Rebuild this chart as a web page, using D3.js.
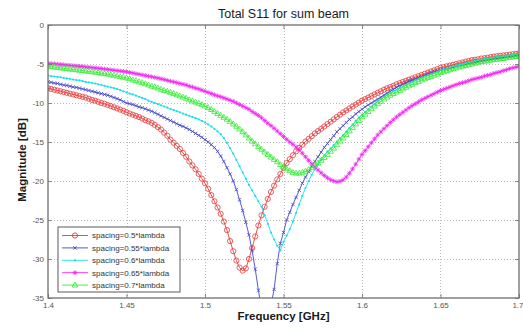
<!DOCTYPE html>
<html>
<head>
<meta charset="utf-8">
<script src="https://cdn.jsdelivr.net/npm/d3@7"></script>
<style>
  html, body { margin: 0; padding: 0; background: #fff; }
  svg { display: block; font-family: "Liberation Sans", Arial, sans-serif; }
</style>
</head>
<body>
<svg id="chart" width="523" height="329"></svg>
<script>
// Frequency sweep: 1.400 ... 1.700 GHz, 2 MHz step (151 points per trace)
const freqStart = 1.4;
const freqStep = 0.002;

// |S11| in dB for each element spacing, one value per sweep point
const s11_050 = [
  -8.1,-8.2,-8.3,-8.4,-8.5,-8.6,-8.7,-8.8,-8.9,-9.0,
  -9.1,-9.2,-9.3,-9.45,-9.6,-9.7,-9.85,-10.0,-10.1,-10.25,
  -10.4,-10.55,-10.7,-10.85,-11.0,-11.2,-11.35,-11.5,-11.65,-11.8,
  -12.0,-12.2,-12.35,-12.55,-12.8,-13.1,-13.4,-13.8,-14.2,-14.7,
  -15.1,-15.5,-15.9,-16.4,-16.9,-17.5,-18.0,-18.5,-19.1,-19.7,
  -20.3,-21.0,-21.8,-22.6,-23.4,-24.2,-25.2,-26.3,-27.7,-29.0,
  -30.2,-31.1,-31.5,-31.2,-30.0,-28.6,-27.1,-25.7,-24.4,-23.3,
  -22.3,-21.4,-20.6,-19.8,-19.1,-18.3,-17.7,-17.2,-16.7,-16.2,
  -15.75,-15.35,-14.95,-14.6,-14.25,-13.9,-13.6,-13.3,-13.0,-12.7,
  -12.4,-12.1,-11.8,-11.5,-11.2,-10.95,-10.7,-10.45,-10.2,-9.95,
  -9.7,-9.5,-9.3,-9.1,-8.9,-8.7,-8.5,-8.3,-8.1,-7.95,
  -7.8,-7.6,-7.45,-7.3,-7.15,-7.0,-6.85,-6.7,-6.55,-6.4,
  -6.25,-6.1,-5.95,-5.8,-5.65,-5.5,-5.4,-5.3,-5.2,-5.1,
  -5.0,-4.9,-4.8,-4.7,-4.6,-4.5,-4.45,-4.4,-4.3,-4.25,
  -4.2,-4.1,-4.05,-4.0,-3.95,-3.9,-3.85,-3.8,-3.75,-3.7,
  -3.65
];
const s11_055 = [
  -7.3,-7.35,-7.45,-7.5,-7.6,-7.7,-7.75,-7.85,-7.95,-8.0,
  -8.1,-8.2,-8.3,-8.4,-8.5,-8.6,-8.7,-8.8,-8.9,-9.0,
  -9.15,-9.3,-9.45,-9.6,-9.8,-10.0,-10.1,-10.2,-10.35,-10.5,
  -10.6,-10.75,-10.9,-11.05,-11.25,-11.45,-11.65,-11.85,-12.05,-12.25,
  -12.45,-12.65,-12.85,-13.0,-13.2,-13.4,-13.65,-13.9,-14.15,-14.4,
  -14.7,-15.0,-15.35,-15.7,-16.2,-16.8,-17.5,-18.3,-19.1,-20.0,
  -21.1,-22.4,-23.8,-25.3,-26.9,-28.9,-31.3,-34.0,-36.3,-39.5,
  -40.0,-36.0,-33.9,-30.6,-28.0,-26.6,-25.0,-24.0,-23.0,-22.1,
  -21.2,-20.3,-19.5,-18.8,-18.1,-17.5,-16.9,-16.3,-15.7,-15.2,
  -14.7,-14.2,-13.7,-13.3,-12.9,-12.5,-12.1,-11.8,-11.4,-11.1,
  -10.8,-10.5,-10.25,-10.0,-9.75,-9.5,-9.25,-9.0,-8.75,-8.5,
  -8.25,-8.0,-7.8,-7.6,-7.4,-7.2,-7.05,-6.9,-6.75,-6.6,
  -6.45,-6.3,-6.15,-6.0,-5.9,-5.8,-5.7,-5.6,-5.5,-5.4,
  -5.3,-5.2,-5.1,-5.0,-4.92,-4.85,-4.77,-4.7,-4.62,-4.55,
  -4.48,-4.42,-4.36,-4.3,-4.24,-4.18,-4.12,-4.06,-4.0,-3.95,
  -3.9
];
const s11_060 = [
  -6.5,-6.55,-6.6,-6.65,-6.7,-6.8,-6.85,-6.9,-7.0,-7.05,
  -7.1,-7.2,-7.3,-7.35,-7.45,-7.5,-7.6,-7.7,-7.8,-7.9,
  -8.0,-8.1,-8.2,-8.35,-8.5,-8.65,-8.8,-8.9,-9.05,-9.2,
  -9.35,-9.5,-9.7,-9.85,-10.0,-10.15,-10.3,-10.45,-10.6,-10.75,
  -10.9,-11.05,-11.2,-11.35,-11.5,-11.65,-11.8,-11.95,-12.1,-12.3,
  -12.5,-12.75,-13.0,-13.3,-13.65,-14.0,-14.5,-15.1,-15.8,-16.5,
  -17.3,-18.1,-18.9,-19.7,-20.5,-21.2,-21.9,-22.6,-23.3,-24.4,
  -25.5,-26.6,-27.5,-28.3,-28.9,-27.8,-27.0,-26.2,-25.2,-24.1,
  -23.0,-21.9,-20.9,-20.0,-19.2,-18.5,-17.9,-17.3,-16.7,-16.2,
  -15.8,-15.4,-14.95,-14.5,-14.1,-13.65,-13.2,-12.75,-12.3,-11.85,
  -11.5,-11.15,-10.8,-10.45,-10.1,-9.8,-9.5,-9.2,-8.95,-8.7,
  -8.5,-8.3,-8.1,-7.9,-7.7,-7.5,-7.3,-7.1,-6.95,-6.75,
  -6.6,-6.45,-6.3,-6.15,-6.0,-5.8,-5.7,-5.55,-5.45,-5.3,
  -5.2,-5.1,-5.0,-4.9,-4.8,-4.7,-4.6,-4.5,-4.4,-4.35,
  -4.3,-4.22,-4.15,-4.1,-4.04,-4.0,-3.92,-3.85,-3.8,-3.75,
  -3.7
];
const s11_065 = [
  -4.9,-4.94,-4.98,-5.02,-5.06,-5.1,-5.14,-5.18,-5.22,-5.26,
  -5.3,-5.34,-5.38,-5.42,-5.46,-5.5,-5.55,-5.6,-5.65,-5.7,
  -5.75,-5.8,-5.85,-5.9,-5.95,-6.0,-6.08,-6.16,-6.24,-6.32,
  -6.4,-6.48,-6.56,-6.64,-6.72,-6.8,-6.9,-7.0,-7.1,-7.2,
  -7.3,-7.4,-7.5,-7.6,-7.7,-7.85,-7.95,-8.1,-8.2,-8.35,
  -8.5,-8.65,-8.8,-8.95,-9.1,-9.2,-9.35,-9.5,-9.65,-9.8,
  -10.0,-10.2,-10.4,-10.6,-10.8,-11.1,-11.35,-11.6,-11.9,-12.25,
  -12.6,-12.9,-13.25,-13.6,-13.95,-14.3,-14.65,-15.0,-15.3,-15.65,
  -16.0,-16.45,-16.9,-17.35,-17.8,-18.2,-18.6,-18.95,-19.3,-19.6,
  -19.85,-20.0,-20.1,-20.05,-19.85,-19.5,-19.0,-18.45,-17.85,-17.2,
  -16.6,-16.1,-15.6,-15.1,-14.6,-14.1,-13.7,-13.3,-12.9,-12.5,
  -12.15,-11.8,-11.5,-11.2,-10.9,-10.6,-10.35,-10.1,-9.85,-9.6,
  -9.4,-9.2,-9.0,-8.8,-8.6,-8.4,-8.25,-8.1,-7.95,-7.8,
  -7.65,-7.5,-7.4,-7.3,-7.15,-7.0,-6.9,-6.8,-6.7,-6.55,
  -6.45,-6.35,-6.2,-6.1,-6.0,-5.85,-5.75,-5.6,-5.5,-5.4,
  -5.3
];
const s11_070 = [
  -5.3,-5.35,-5.4,-5.45,-5.5,-5.55,-5.6,-5.65,-5.7,-5.75,
  -5.8,-5.85,-5.9,-5.95,-6.0,-6.05,-6.1,-6.2,-6.25,-6.3,
  -6.4,-6.45,-6.55,-6.65,-6.7,-6.8,-6.9,-7.05,-7.15,-7.3,
  -7.4,-7.55,-7.7,-7.85,-7.95,-8.1,-8.25,-8.4,-8.5,-8.65,
  -8.8,-8.95,-9.1,-9.25,-9.4,-9.6,-9.75,-9.9,-10.05,-10.2,
  -10.4,-10.6,-10.85,-11.1,-11.35,-11.6,-11.85,-12.1,-12.4,-12.7,
  -13.0,-13.35,-13.7,-14.1,-14.5,-14.9,-15.25,-15.6,-15.95,-16.3,
  -16.6,-16.95,-17.25,-17.55,-17.9,-18.2,-18.45,-18.7,-18.9,-19.0,
  -19.0,-18.9,-18.75,-18.55,-18.3,-18.0,-17.7,-17.35,-17.0,-16.6,
  -16.2,-15.8,-15.35,-14.9,-14.5,-14.05,-13.6,-13.15,-12.7,-12.25,
  -11.8,-11.45,-11.1,-10.75,-10.4,-10.1,-9.8,-9.5,-9.25,-9.0,
  -8.8,-8.6,-8.4,-8.2,-8.0,-7.8,-7.6,-7.4,-7.25,-7.05,
  -6.9,-6.75,-6.6,-6.45,-6.3,-6.1,-6.0,-5.85,-5.75,-5.6,
  -5.5,-5.4,-5.3,-5.2,-5.1,-5.0,-4.9,-4.8,-4.7,-4.65,
  -4.6,-4.52,-4.45,-4.4,-4.34,-4.3,-4.22,-4.15,-4.1,-4.05,
  -4.0
];

const seriesLabels = [
  "spacing=0.5*lambda",
  "spacing=0.55*lambda",
  "spacing=0.6*lambda",
  "spacing=0.65*lambda",
  "spacing=0.7*lambda"
];
const seriesValues = [s11_050, s11_055, s11_060, s11_065, s11_070];

const xTickValues = [1.4, 1.45, 1.5, 1.55, 1.6, 1.65, 1.7];
const xTickLabels = ["1.4", "1.45", "1.5", "1.55", "1.6", "1.65", "1.7"];
const yTickValues = [0, -5, -10, -15, -20, -25, -30, -35];
const yTickLabels = ["0", "-5", "-10", "-15", "-20", "-25", "-30", "-35"];

const titleText = "Total S11 for sum beam";
const xLabelText = "Frequency [GHz]";
const yLabelText = "Magnitude [dB]";

// ---- styling per trace: colour and marker glyph ----
const styles = [
  { color: "#e83a3a", marker: "circle" },
  { color: "#4646c8", marker: "x" },
  { color: "#18e0ea", marker: "dot" },
  { color: "#f028f0", marker: "star" },
  { color: "#36ee36", marker: "triangle" }
];

const W = 523, H = 329;
const plot = { left: 48, right: 519, top: 25, bottom: 298 };

const svg = d3.select("#chart");

const x = d3.scaleLinear().domain([1.4, 1.7]).range([plot.left, plot.right]);
const y = d3.scaleLinear().domain([-35, 0]).range([plot.bottom, plot.top]);

// Marker glyph paths centred on (0,0)
function markerPath(kind) {
  const p = d3.path();
  if (kind === "circle") {
    p.moveTo(2.6, 0); p.arc(0, 0, 2.6, 0, Math.PI * 2);
  } else if (kind === "x") {
    const r = 1.7;
    p.moveTo(-r, -r); p.lineTo(r, r); p.moveTo(-r, r); p.lineTo(r, -r);
  } else if (kind === "dot") {
    p.moveTo(1.1, 0); p.arc(0, 0, 1.1, 0, Math.PI * 2);
  } else if (kind === "star") {
    const r = 2.4, d = 1.7;
    p.moveTo(-r, 0); p.lineTo(r, 0); p.moveTo(0, -r); p.lineTo(0, r);
    p.moveTo(-d, -d); p.lineTo(d, d); p.moveTo(-d, d); p.lineTo(d, -d);
  } else if (kind === "triangle") {
    p.moveTo(0, -3.1); p.lineTo(2.8, 1.9); p.lineTo(-2.8, 1.9); p.closePath();
  }
  return p.toString();
}

// ---- grid ----
const grid = svg.append("g").attr("class", "grid")
  .attr("stroke", "#a8a8a8").attr("stroke-width", 0.8)
  .attr("stroke-dasharray", "1,2");
grid.selectAll("line.gx")
  .data(xTickValues.filter(v => v > 1.4 && v < 1.7))
  .join("line").attr("class", "gx")
  .attr("x1", d => Math.round(x(d)) + 0.5).attr("x2", d => Math.round(x(d)) + 0.5)
  .attr("y1", plot.top).attr("y2", plot.bottom);
grid.selectAll("line.gy")
  .data(yTickValues.filter(v => v < 0 && v > -35))
  .join("line").attr("class", "gy")
  .attr("y1", d => Math.round(y(d)) + 0.5).attr("y2", d => Math.round(y(d)) + 0.5)
  .attr("x1", plot.left).attr("x2", plot.right);

// ---- traces ----
svg.append("clipPath").attr("id", "plotClip")
  .append("rect")
  .attr("x", plot.left).attr("y", plot.top)
  .attr("width", plot.right - plot.left).attr("height", plot.bottom - plot.top);

const traces = svg.append("g").attr("clip-path", "url(#plotClip)");
const line = d3.line()
  .x((d, i) => x(freqStart + i * freqStep))
  .y(d => y(d));

seriesValues.forEach((vals, k) => {
  const st = styles[k];
  const g = traces.append("g");
  g.append("path")
    .attr("d", line(vals))
    .attr("fill", "none")
    .attr("stroke", st.color)
    .attr("stroke-width", 0.9);
  const glyph = markerPath(st.marker);
  const filled = st.marker === "dot";
  g.selectAll("path.m")
    .data(vals)
    .join("path").attr("class", "m")
    .attr("transform", (d, i) => `translate(${x(freqStart + i * freqStep)},${y(d)})`)
    .attr("d", glyph)
    .attr("fill", filled ? st.color : "none")
    .attr("stroke", st.color)
    .attr("stroke-width", filled ? 0 : 0.8);
});

// ---- axes (ticks pointing inward, box around the plot) ----
const axisColor = "#6e6e6e";
const labelColor = "#555";

const xAxis = d3.axisBottom(x).tickValues(xTickValues)
  .tickFormat((d, i) => xTickLabels[i]).tickSize(-4).tickPadding(4);
const yAxis = d3.axisLeft(y).tickValues(yTickValues)
  .tickFormat((d, i) => yTickLabels[i]).tickSize(-4).tickPadding(4);

const gx = svg.append("g").attr("transform", `translate(0,${plot.bottom})`).call(xAxis);
const gy = svg.append("g").attr("transform", `translate(${plot.left},0)`).call(yAxis);
svg.append("g").attr("transform", `translate(0,${plot.top})`)
  .call(d3.axisTop(x).tickValues(xTickValues).tickFormat("").tickSize(-4));
svg.append("g").attr("transform", `translate(${plot.right},0)`)
  .call(d3.axisRight(y).tickValues(yTickValues).tickFormat("").tickSize(-4));

svg.selectAll(".domain").remove();
svg.selectAll(".tick line").attr("stroke", axisColor).attr("stroke-width", 0.8);
[gx, gy].forEach(g => g.selectAll(".tick text")
  .attr("fill", labelColor)
  .style("font-size", "8px")
  .style("font-family", '"Liberation Sans", Arial, sans-serif'));
// keep the last frequency label inside the page edge
gx.selectAll(".tick text").filter(d => d === 1.7).attr("text-anchor", "end").attr("x", 4);

svg.append("rect")
  .attr("x", plot.left).attr("y", plot.top)
  .attr("width", plot.right - plot.left).attr("height", plot.bottom - plot.top)
  .attr("fill", "none").attr("stroke", axisColor).attr("stroke-width", 1.3);

// ---- titles ----
svg.append("text")
  .attr("x", (plot.left + plot.right) / 2).attr("y", 18)
  .attr("text-anchor", "middle")
  .style("font-size", "12.5px").attr("fill", "#1a1a1a")
  .text(titleText);

svg.append("text")
  .attr("x", (plot.left + plot.right) / 2).attr("y", 320)
  .attr("text-anchor", "middle")
  .style("font-size", "11.5px").style("font-weight", "bold").attr("fill", "#1a1a1a")
  .text(xLabelText);

svg.append("text")
  .attr("transform", "translate(26,160) rotate(-90)")
  .attr("text-anchor", "middle")
  .style("font-size", "11.5px").style("font-weight", "bold").attr("fill", "#1a1a1a")
  .text(yLabelText);

// ---- legend ----
const legend = svg.append("g").attr("transform", "translate(58,227)");
legend.append("rect")
  .attr("x", 0).attr("y", 0).attr("width", 122).attr("height", 65)
  .attr("fill", "#fff").attr("stroke", "#5a5a5a").attr("stroke-width", 1);
seriesLabels.forEach((name, k) => {
  const st = styles[k];
  const ly = 8.5 + k * 12.4;
  const row = legend.append("g").attr("transform", `translate(0,${ly})`);
  row.append("line").attr("x1", 4).attr("x2", 30).attr("y1", 0).attr("y2", 0)
    .attr("stroke", st.color).attr("stroke-width", 0.9);
  row.append("path").attr("transform", "translate(17,0)")
    .attr("d", markerPath(st.marker))
    .attr("fill", st.marker === "dot" ? st.color : "none")
    .attr("stroke", st.color).attr("stroke-width", st.marker === "dot" ? 0 : 0.9);
  row.append("text").attr("x", 34).attr("y", 0).attr("dy", "0.35em")
    .style("font-size", "8px").attr("fill", "#333")
    .text(name);
});
</script>
</body>
</html>
